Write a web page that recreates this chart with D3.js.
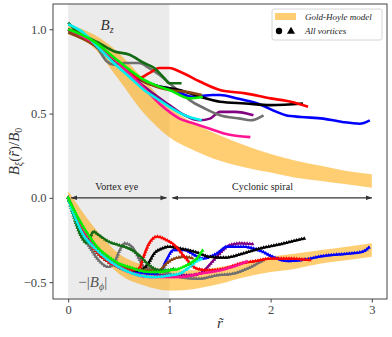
<!DOCTYPE html>
<html>
<head>
<meta charset="utf-8">
<script src="https://cdn.jsdelivr.net/npm/d3@7"></script>
<style>
  body { margin: 0; background: #fff; }
  text { font-family: "Liberation Serif", "DejaVu Serif", serif; }
</style>
</head>
<body>
<svg id="chart" width="392" height="337"></svg>
<script>
// Gold-Hoyle band
const bandR = [0, 0.25, 0.5, 0.75, 1, 1.25, 1.5, 1.75, 2, 2.25, 2.5, 2.75, 3];
const bzHi = [1.03, 0.97, 0.86, 0.70, 0.54, 0.44, 0.37, 0.31, 0.26, 0.22, 0.19, 0.16, 0.14];
const bzLo = [0.97, 0.89, 0.70, 0.50, 0.36, 0.28, 0.22, 0.18, 0.15, 0.12, 0.10, 0.08, 0.06];
const bphiHi = [0.04, -0.17, -0.33, -0.40, -0.43, -0.43, -0.41, -0.38, -0.35, -0.33, -0.31, -0.29, -0.27];
const bphiLo = [-0.03, -0.28, -0.45, -0.52, -0.55, -0.54, -0.51, -0.47, -0.44, -0.42, -0.39, -0.37, -0.35];

// vortices: [r, value] pairs
const names = ["purple", "grey", "blue", "black", "brown", "red", "darkgreen", "magenta", "cyan", "lime"];
const colors = ["#800080", "#707070", "#0000ff", "#000000", "#8b4513", "#ff0000", "#136b13", "#ff1493", "#00eeee", "#00ee00"];

const bz = {
  purple: [[0,1.0],[0.25,0.92],[0.5,0.80],[0.75,0.66],[1.0,0.55],[1.15,0.49],[1.3,0.46],[1.4,0.47],[1.5,0.51],[1.65,0.51],[1.83,0.49]],
  grey: [[0,0.99],[0.15,0.96],[0.3,0.88],[0.38,0.81],[0.45,0.79],[0.55,0.80],[0.7,0.80],[0.8,0.77],[0.9,0.73],[1.0,0.68],[1.1,0.63],[1.2,0.58],[1.35,0.53],[1.5,0.49],[1.7,0.47],[1.8,0.46],[1.93,0.49]],
  blue: [[0,1.0],[0.25,0.92],[0.5,0.80],[0.75,0.69],[0.9,0.66],[1.0,0.65],[1.23,0.60],[1.43,0.61],[1.5,0.61],[1.67,0.59],[1.87,0.56],[2.06,0.51],[2.15,0.49],[2.3,0.48],[2.52,0.47],[2.71,0.45],[2.88,0.44],[2.98,0.46]],
  black: [[0,1.0],[0.25,0.91],[0.5,0.80],[0.75,0.69],[0.9,0.66],[1.1,0.64],[1.3,0.60],[1.5,0.57],[1.75,0.56],[2.0,0.55],[2.32,0.56]],
  brown: [[0,0.98],[0.25,0.91],[0.5,0.80],[0.75,0.69],[1.0,0.64],[1.15,0.63],[1.32,0.61]],
  red: [[0,1.0],[0.25,0.92],[0.5,0.80],[0.6,0.74],[0.7,0.71],[0.8,0.74],[0.9,0.77],[1.0,0.77],[1.1,0.75],[1.3,0.69],[1.5,0.64],[1.75,0.62],[2.0,0.59],[2.2,0.57],[2.37,0.54]],
  darkgreen: [[0,1.04],[0.1,0.98],[0.2,0.95],[0.3,0.92],[0.45,0.87],[0.6,0.85],[0.75,0.80],[0.85,0.77],[0.95,0.71],[1.0,0.68],[1.12,0.68]],
  magenta: [[0,1.0],[0.25,0.92],[0.5,0.80],[0.6,0.74],[0.75,0.65],[0.9,0.56],[1.0,0.51],[1.1,0.47],[1.25,0.44],[1.4,0.41],[1.55,0.38],[1.8,0.36]],
  cyan: [[0,1.03],[0.15,0.98],[0.3,0.89],[0.45,0.80],[0.6,0.72],[0.75,0.64],[0.9,0.58],[1.0,0.54],[1.15,0.49],[1.32,0.46]],
  lime: [[0,1.0],[0.25,0.93],[0.5,0.81],[0.75,0.70],[0.9,0.66],[1.0,0.64],[1.2,0.59],[1.33,0.60]]
};

const bphi = {
  purple: [[0,0],[0.2,-0.24],[0.4,-0.37],[0.6,-0.43],[0.8,-0.45],[1.0,-0.46],[1.2,-0.46],[1.3,-0.45],[1.43,-0.375],[1.53,-0.31],[1.6,-0.28],[1.7,-0.27],[1.83,-0.275]],
  grey: [[0,0],[0.05,-0.08],[0.1,-0.16],[0.17,-0.25],[0.22,-0.30],[0.3,-0.37],[0.4,-0.41],[0.46,-0.38],[0.51,-0.31],[0.56,-0.27],[0.63,-0.29],[0.7,-0.36],[0.75,-0.41],[0.88,-0.43],[1.0,-0.45],[1.1,-0.47],[1.3,-0.48],[1.47,-0.46],[1.63,-0.45],[1.77,-0.42],[1.93,-0.37]],
  blue: [[0,0],[0.1,-0.14],[0.2,-0.25],[0.3,-0.32],[0.4,-0.37],[0.5,-0.41],[0.7,-0.44],[0.85,-0.45],[0.92,-0.43],[0.97,-0.37],[1.04,-0.31],[1.15,-0.31],[1.25,-0.34],[1.33,-0.36],[1.47,-0.33],[1.57,-0.29],[1.73,-0.29],[1.9,-0.315],[2.06,-0.36],[2.16,-0.375],[2.3,-0.37],[2.52,-0.345],[2.78,-0.33],[2.91,-0.32],[2.98,-0.29]],
  black: [[0,0],[0.1,-0.15],[0.2,-0.26],[0.3,-0.33],[0.4,-0.38],[0.5,-0.41],[0.6,-0.43],[0.7,-0.43],[0.78,-0.40],[0.85,-0.33],[0.93,-0.30],[1.0,-0.29],[1.1,-0.30],[1.25,-0.32],[1.4,-0.35],[1.55,-0.355],[1.7,-0.335],[1.9,-0.30],[2.1,-0.275],[2.2,-0.26],[2.34,-0.24]],
  brown: [[0,0],[0.2,-0.26],[0.4,-0.38],[0.6,-0.42],[0.8,-0.43],[0.9,-0.43],[0.97,-0.39],[1.05,-0.36],[1.15,-0.35],[1.24,-0.36]],
  red: [[0,0],[0.1,-0.15],[0.2,-0.26],[0.3,-0.33],[0.4,-0.38],[0.5,-0.41],[0.6,-0.43],[0.7,-0.42],[0.75,-0.34],[0.8,-0.27],[0.88,-0.23],[0.97,-0.25],[1.05,-0.28],[1.15,-0.35],[1.27,-0.42],[1.4,-0.43],[1.55,-0.42],[1.7,-0.39],[1.85,-0.375],[2.0,-0.36],[2.2,-0.36],[2.39,-0.37]],
  darkgreen: [[0,0],[0.05,-0.10],[0.1,-0.19],[0.15,-0.25],[0.19,-0.27],[0.25,-0.20],[0.3,-0.22],[0.4,-0.26],[0.5,-0.28],[0.6,-0.30],[0.7,-0.34],[0.8,-0.40],[0.9,-0.43],[0.98,-0.43],[1.05,-0.42]],
  magenta: [[0,0],[0.1,-0.13],[0.2,-0.23],[0.3,-0.31],[0.4,-0.37],[0.5,-0.41],[0.6,-0.44],[0.7,-0.46],[0.8,-0.47],[0.9,-0.47],[1.0,-0.47],[1.1,-0.47],[1.3,-0.45],[1.5,-0.43],[1.67,-0.40],[1.78,-0.375]],
  cyan: [[0,0],[0.05,-0.09],[0.1,-0.16],[0.15,-0.22],[0.2,-0.26],[0.3,-0.32],[0.4,-0.37],[0.5,-0.41],[0.6,-0.44],[0.7,-0.46],[0.85,-0.47],[1.0,-0.46],[1.1,-0.45],[1.2,-0.41],[1.27,-0.375],[1.33,-0.36]],
  lime: [[0,0],[0.1,-0.12],[0.2,-0.22],[0.3,-0.30],[0.4,-0.35],[0.5,-0.39],[0.6,-0.41],[0.7,-0.43],[0.8,-0.44],[0.9,-0.44],[1.0,-0.43],[1.1,-0.42],[1.2,-0.39],[1.27,-0.36],[1.33,-0.31]]
};

const xTicks = [0, 1, 2, 3];
const yTicks = [-0.5, 0, 0.5, 1.0];

const svg = d3.select("#chart");
const mLeft = 53, mRight = 387, mTop = 4, mBottom = 299;

const x = d3.scaleLinear().domain([-0.15, 3.15]).range([mLeft, mRight]);
const y = d3.scaleLinear().domain([-0.6, 1.15]).range([mBottom, mTop]);

const defs = svg.append("defs");
defs.append("clipPath").attr("id", "clip")
  .append("rect").attr("x", mLeft).attr("y", mTop).attr("width", mRight - mLeft).attr("height", mBottom - mTop);

const plot = svg.append("g").attr("clip-path", "url(#clip)");

// vortex eye shading
plot.append("rect")
  .attr("x", x(0)).attr("y", mTop)
  .attr("width", x(1) - x(0)).attr("height", mBottom - mTop)
  .attr("fill", "#ebebeb");

// model bands
const area = d3.area().x(d => x(d[0])).y0(d => y(d[1])).y1(d => y(d[2])).curve(d3.curveMonotoneX);
[[bzHi, bzLo], [bphiHi, bphiLo]].forEach(([hi, lo]) => {
  plot.append("path")
    .datum(bandR.map((r, i) => [r, lo[i], hi[i]]))
    .attr("d", area)
    .attr("fill", "#ffa500").attr("fill-opacity", 0.55);
});

const line = d3.line().x(d => x(d[0])).y(d => y(d[1])).curve(d3.curveMonotoneX);
const tri = d3.symbol().type(d3.symbolTriangle).size(7);

names.forEach((n, i) => {
  plot.append("path").datum(bz[n]).attr("d", line)
    .attr("fill", "none").attr("stroke", colors[i]).attr("stroke-width", 2.6)
    .attr("stroke-linejoin", "round");
});

names.forEach((n, i) => {
  const p = plot.append("path").datum(bphi[n]).attr("d", line)
    .attr("fill", "none").attr("stroke", colors[i]).attr("stroke-width", 1.8);
  // small triangle markers along the drawn curve
  const node = p.node(), len = node.getTotalLength();
  for (let s = 0; s <= len; s += 2.6) {
    const pt = node.getPointAtLength(s);
    plot.append("path").attr("d", tri)
      .attr("transform", `translate(${pt.x},${pt.y})`)
      .attr("fill", colors[i]);
  }
});

// arrows
defs.append("marker").attr("id", "ah").attr("viewBox", "0 0 10 10")
  .attr("refX", 9).attr("refY", 5).attr("markerWidth", 6).attr("markerHeight", 6)
  .attr("orient", "auto-start-reverse")
  .append("path").attr("d", "M0,1.5 L10,5 L0,8.5 z").attr("fill", "#333");

[[0.03, 0.97], [1.03, 3.0]].forEach(([a, b]) => {
  svg.append("line")
    .attr("x1", x(a)).attr("x2", x(b)).attr("y1", y(0)).attr("y2", y(0))
    .attr("stroke", "#333").attr("stroke-width", 1.1)
    .attr("marker-start", "url(#ah)").attr("marker-end", "url(#ah)");
});
svg.append("text").attr("x", x(0.48)).attr("y", y(0) - 8)
  .attr("text-anchor", "middle").attr("font-size", 10).attr("fill", "#222").text("Vortex eye");
svg.append("text").attr("x", x(1.92)).attr("y", y(0) - 8)
  .attr("text-anchor", "middle").attr("font-size", 10).attr("fill", "#222").text("Cyclonic spiral");

// curve labels
const bzLab = svg.append("text").attr("x", x(0.32)).attr("y", 30)
  .attr("font-size", 15).attr("font-style", "italic").attr("fill", "#333");
bzLab.append("tspan").text("B");
bzLab.append("tspan").attr("dy", 3).attr("font-size", 10).text("z");

const bpLab = svg.append("text").attr("x", x(0.1)).attr("y", y(-0.5) + 5)
  .attr("font-size", 15).attr("fill", "#555");
bpLab.append("tspan").text("−|");
bpLab.append("tspan").attr("font-style", "italic").text("B");
bpLab.append("tspan").attr("dy", 3).attr("font-size", 10).attr("font-style", "italic").text("ϕ");
bpLab.append("tspan").attr("dy", -3).text("|");

// axes
const xAxis = svg.append("g").attr("transform", `translate(0,${mBottom})`)
  .call(d3.axisBottom(x).tickValues(xTicks).tickFormat(d3.format("d")).tickSize(3.5).tickPadding(3));
const yAxis = svg.append("g").attr("transform", `translate(${mLeft},0)`)
  .call(d3.axisLeft(y).tickValues(yTicks).tickFormat(d => d3.format(".1f")(d).replace("-", "−")).tickSize(3.5).tickPadding(3));
[xAxis, yAxis].forEach(g => {
  g.select(".domain").remove();
  g.selectAll("line").attr("stroke", "#444");
  g.selectAll("text").attr("font-size", 12.5).attr("fill", "#444")
    .attr("font-family", "'Liberation Serif', serif");
});

svg.append("rect").attr("x", mLeft).attr("y", mTop)
  .attr("width", mRight - mLeft).attr("height", mBottom - mTop)
  .attr("fill", "none").attr("stroke", "#444").attr("stroke-width", 1);

// axis titles
svg.append("text").attr("x", x(1.5)).attr("y", 328)
  .attr("text-anchor", "middle").attr("font-size", 15).attr("font-style", "italic")
  .attr("fill", "#333").text("r\u0303");

const yl = svg.append("text")
  .attr("transform", `translate(19,${(mTop + mBottom) / 2}) rotate(-90)`)
  .attr("text-anchor", "middle").attr("font-size", 15).attr("fill", "#333");
yl.append("tspan").attr("font-style", "italic").text("B");
yl.append("tspan").attr("dy", 3).attr("font-size", 10).attr("font-style", "italic").text("ξ");
yl.append("tspan").attr("dy", -3).text("(");
yl.append("tspan").attr("font-style", "italic").text("r\u0303");
yl.append("tspan").text(")/");
yl.append("tspan").attr("font-style", "italic").text("B");
yl.append("tspan").attr("dy", 3).attr("font-size", 10).text("0");

// legend
const lg = svg.append("g").attr("transform", "translate(272,9)");
lg.append("rect").attr("width", 110).attr("height", 31).attr("rx", 2)
  .attr("fill", "#fff").attr("fill-opacity", 0.85).attr("stroke", "#ccc").attr("stroke-width", 0.8);
lg.append("rect").attr("x", 3).attr("y", 4).attr("width", 21).attr("height", 7)
  .attr("fill", "#ffa500").attr("fill-opacity", 0.55);
lg.append("circle").attr("cx", 7).attr("cy", 22).attr("r", 3.2).attr("fill", "#000");
lg.append("path").attr("d", d3.symbol().type(d3.symbolTriangle).size(28))
  .attr("transform", "translate(19,22.5)").attr("fill", "#000");
lg.append("text").attr("x", 33).attr("y", 11).attr("font-size", 9).attr("font-style", "italic")
  .attr("fill", "#222").text("Gold-Hoyle model");
lg.append("text").attr("x", 33).attr("y", 25).attr("font-size", 9).attr("font-style", "italic")
  .attr("fill", "#222").text("All vortices");
</script>
</body>
</html>
